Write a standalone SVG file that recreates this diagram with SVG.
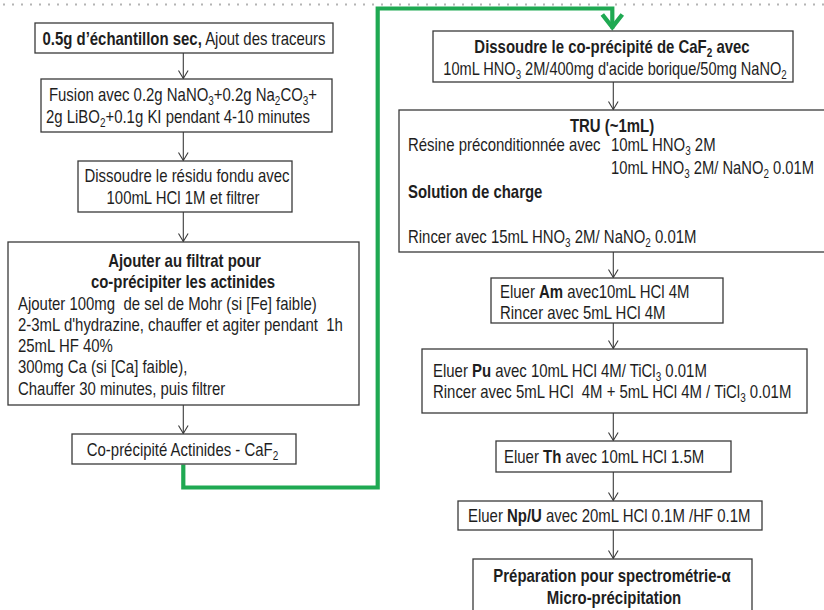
<svg xmlns="http://www.w3.org/2000/svg" width="824" height="610" viewBox="0 0 824 610">
  <style>
    .t { font-family: "Liberation Sans", Arial, sans-serif; font-size: 18px; fill: #1e1e1e; white-space: pre; }
    .b { font-weight: bold; }
    .m { text-anchor: middle; }
    .box { fill: #ffffff; stroke: #3a3a3a; stroke-width: 1.3; }
    .arr { fill: none; stroke: #3a3a3a; stroke-width: 1.1; marker-end: url(#v); }
    .flow { fill: none; stroke: #1fa952; stroke-width: 4.2; stroke-linejoin: miter; marker-end: url(#vg); }
    .dots { stroke: #b4b4b4; stroke-width: 2; stroke-dasharray: 2 7; }
  </style>
  <defs>
    <marker id="v" markerUnits="userSpaceOnUse" viewBox="-10 -6 12 12" refX="0" refY="0" markerWidth="12" markerHeight="12" orient="auto">
      <path d="M-8,-4.8 L0,0 L-8,4.8" fill="none" stroke="#3a3a3a" stroke-width="1.1"/>
    </marker>
    <marker id="vg" markerUnits="userSpaceOnUse" viewBox="-18 -14 22 28" refX="0" refY="0" markerWidth="22" markerHeight="28" orient="auto">
      <path d="M-14,-10 L-1.2,0 L-14,10" fill="none" stroke="#1fa952" stroke-width="4.4"/>
    </marker>
  </defs>

  <rect width="824" height="610" fill="#ffffff"/>
  <line class="dots" x1="3" y1="4.5" x2="824" y2="4.5"/>

  <g id="connectors">
    <line class="arr" x1="183.3" y1="53" x2="183.3" y2="78.5"/>
    <line class="arr" x1="183.3" y1="132" x2="183.3" y2="160.5"/>
    <line class="arr" x1="183.3" y1="212" x2="183.3" y2="241.5"/>
    <line class="arr" x1="183.3" y1="405" x2="183.3" y2="433.5"/>
    <line class="arr" x1="613.3" y1="82" x2="613.3" y2="109.5"/>
    <line class="arr" x1="613.3" y1="252" x2="613.3" y2="277.5"/>
    <line class="arr" x1="613.3" y1="323" x2="613.3" y2="348.5"/>
    <line class="arr" x1="613.3" y1="413" x2="613.3" y2="440.5"/>
    <line class="arr" x1="613.3" y1="472" x2="613.3" y2="500.5"/>
    <line class="arr" x1="613.3" y1="530" x2="613.3" y2="558.5"/>
    <path class="flow" d="M183.3,464.5 V487.5 H377.7 V8.5 H612.3 V28.5"/>
  </g>

  <!-- left column -->
  <g id="sample">
    <rect class="box" x="35" y="23" width="298" height="30"/>
    <text class="t m" transform="translate(184 44.5) scale(.83 1)"><tspan class="b">0.5g d’échantillon sec,</tspan> Ajout des traceurs</text>
  </g>
  <g id="fusion">
    <rect class="box" x="41" y="79" width="291" height="53"/>
    <text class="t m" transform="translate(183 101) scale(.83 1)">Fusion avec 0.2g NaNO<tspan dy="4" font-size="12">3</tspan><tspan dy="-4">+0.2g Na</tspan><tspan dy="4" font-size="12">2</tspan><tspan dy="-4">CO</tspan><tspan dy="4" font-size="12">3</tspan><tspan dy="-4">+</tspan></text>
    <text class="t m" transform="translate(178 123) scale(.83 1)">2g LiBO<tspan dy="4" font-size="12">2</tspan><tspan dy="-4">+0.1g KI pendant 4-10 minutes</tspan></text>
  </g>
  <g id="dissolve-residue">
    <rect class="box" x="78" y="161" width="214" height="51"/>
    <text class="t m" transform="translate(187 182) scale(.83 1)">Dissoudre le résidu fondu avec</text>
    <text class="t m" transform="translate(183 204) scale(.83 1)">100mL HCl 1M et filtrer</text>
  </g>
  <g id="coprecipitate">
    <rect class="box" x="8" y="242" width="351" height="163"/>
    <text class="t b m" transform="translate(184.5 266.5) scale(.83 1)">Ajouter au filtrat pour</text>
    <text class="t b m" transform="translate(183 288) scale(.83 1)">co-précipiter les actinides</text>
    <text class="t" transform="translate(18 309.5) scale(.83 1)">Ajouter 100mg  de sel de Mohr (si [Fe] faible)</text>
    <text class="t" transform="translate(18 330.5) scale(.83 1)">2-3mL d'hydrazine, chauffer et agiter pendant  1h</text>
    <text class="t" transform="translate(18 351.5) scale(.83 1)">25mL HF 40%</text>
    <text class="t" transform="translate(18 373) scale(.83 1)">300mg Ca (si [Ca] faible),</text>
    <text class="t" transform="translate(18 394.5) scale(.83 1)">Chauffer 30 minutes, puis filtrer</text>
  </g>
  <g id="caf2">
    <rect class="box" x="72" y="434" width="224" height="30"/>
    <text class="t m" transform="translate(182.5 455.5) scale(.83 1)">Co-précipité Actinides - CaF<tspan dy="4" font-size="12">2</tspan></text>
  </g>

  <!-- right column -->
  <g id="dissolve-caf2">
    <rect class="box" x="433" y="31" width="360" height="51"/>
    <text class="t b m" transform="translate(612 53) scale(.83 1)">Dissoudre le co-précipité de CaF<tspan dy="4" font-size="12">2</tspan><tspan dy="-4"> avec</tspan></text>
    <text class="t m" transform="translate(615 74.5) scale(.81 1)">10mL HNO<tspan dy="4" font-size="12">3</tspan><tspan dy="-4"> 2M/400mg d'acide borique/50mg NaNO</tspan><tspan dy="4" font-size="12">2</tspan></text>
  </g>
  <g id="tru">
    <rect class="box" x="399" y="110" width="440" height="142"/>
    <text class="t b m" transform="translate(612 131.5) scale(.83 1)">TRU (~1mL)</text>
    <text class="t" transform="translate(408 150.5) scale(.83 1)">Résine préconditionnée avec</text>
    <text class="t" transform="translate(611 150.5) scale(.83 1)">10mL HNO<tspan dy="4" font-size="12">3</tspan><tspan dy="-4"> 2M</tspan></text>
    <text class="t" transform="translate(611 173.5) scale(.82 1)">10mL HNO<tspan dy="4" font-size="12">3</tspan><tspan dy="-4"> 2M/ NaNO</tspan><tspan dy="4" font-size="12">2</tspan><tspan dy="-4"> 0.01M</tspan></text>
    <text class="t b" transform="translate(408 197.5) scale(.83 1)">Solution de charge</text>
    <text class="t" transform="translate(408 242.5) scale(.83 1)">Rincer avec 15mL HNO<tspan dy="4" font-size="12">3</tspan><tspan dy="-4"> 2M/ NaNO</tspan><tspan dy="4" font-size="12">2</tspan><tspan dy="-4"> 0.01M</tspan></text>
  </g>
  <g id="elute-am">
    <rect class="box" x="491" y="278" width="232" height="45"/>
    <text class="t" transform="translate(500 297.5) scale(.83 1)">Eluer <tspan class="b">Am</tspan> avec10mL HCl 4M</text>
    <text class="t" transform="translate(500 318.5) scale(.83 1)">Rincer avec 5mL HCl 4M</text>
  </g>
  <g id="elute-pu">
    <rect class="box" x="422" y="349" width="385" height="64"/>
    <text class="t" transform="translate(433 376.5) scale(.83 1)">Eluer <tspan class="b">Pu</tspan> avec 10mL HCl 4M/ TiCl<tspan dy="4" font-size="12">3</tspan><tspan dy="-4"> 0.01M</tspan></text>
    <text class="t" transform="translate(433 397.5) scale(.83 1)">Rincer avec 5mL HCl  4M + 5mL HCl 4M / TiCl<tspan dy="4" font-size="12">3</tspan><tspan dy="-4"> 0.01M</tspan></text>
  </g>
  <g id="elute-th">
    <rect class="box" x="496" y="441" width="235" height="31"/>
    <text class="t" transform="translate(504 463) scale(.83 1)">Eluer <tspan class="b">Th</tspan> avec 10mL HCl 1.5M</text>
  </g>
  <g id="elute-npu">
    <rect class="box" x="458" y="501" width="304" height="29"/>
    <text class="t" transform="translate(468 522) scale(.83 1)">Eluer <tspan class="b">Np/U</tspan> avec 20mL HCl 0.1M /HF 0.1M</text>
  </g>
  <g id="alpha-prep">
    <rect class="box" x="473" y="559" width="279" height="60"/>
    <text class="t b m" transform="translate(612 581.5) scale(.83 1)">Préparation pour spectrométrie-α</text>
    <text class="t b m" transform="translate(614 603.5) scale(.83 1)">Micro-précipitation</text>
  </g>
</svg>
